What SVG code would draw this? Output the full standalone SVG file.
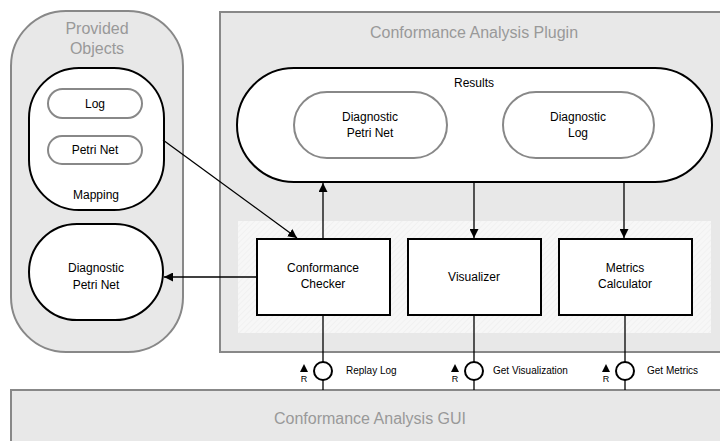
<svg xmlns="http://www.w3.org/2000/svg" width="720" height="441" viewBox="0 0 720 441">
<style>
.cont{fill:#e8e8e8;stroke:#888;stroke-width:2}
.title{font-family:"Liberation Sans",Arial,sans-serif;font-size:16px;fill:#999;text-anchor:middle}
.blk{fill:#fff;stroke:#000;stroke-width:2}
.gry{fill:#fff;stroke:#888;stroke-width:2}
.t{font-family:"Liberation Sans",Arial,sans-serif;font-size:12px;fill:#000;text-anchor:middle}
.s{font-family:"Liberation Sans",Arial,sans-serif;font-size:9px;fill:#000}
.lbl{font-family:"Liberation Sans",Arial,sans-serif;font-size:10px;fill:#000}
.ln{stroke:#000;stroke-width:1.3;fill:none}
.gl{stroke:#888;stroke-width:2}
</style>
<defs>
<marker id="ah" viewBox="0 0 10 10" refX="10" refY="5" markerWidth="9" markerHeight="9" markerUnits="userSpaceOnUse" orient="auto"><path d="M0,0L10,5L0,10z" fill="#000"/></marker>
<pattern id="hatch" width="4" height="4" patternUnits="userSpaceOnUse" patternTransform="rotate(45)"><rect width="4" height="4" fill="#f7f7f7"/><line x1="0" y1="0" x2="0" y2="4" stroke="#ececec" stroke-width="1"/></pattern>
</defs>
<rect width="720" height="441" fill="#fff"/>
<g id="gui">
<rect class="cont" x="11" y="390" width="720" height="60"/>
<text class="title" x="370" y="424">Conformance Analysis GUI</text>
</g>
<g id="provided">
<rect class="cont" x="11" y="11" width="172" height="341" rx="55" ry="55"/>
<text class="title" x="97" y="34">Provided</text>
<text class="title" x="97" y="54">Objects</text>
</g>
<g id="plugin">
<rect class="cont" x="220" y="12" width="520" height="340"/>
<text class="title" x="474" y="38">Conformance Analysis Plugin</text>
<rect x="238" y="221" width="473" height="112" fill="url(#hatch)"/>
</g>
<g id="band">
<line class="gl" x1="220" y1="352" x2="720" y2="352"/>
</g>
<g id="mapping">
<rect class="blk" x="29" y="68" width="135" height="142" rx="50" ry="50"/>
<text class="t" x="96" y="199">Mapping</text>
</g>
<g id="log">
<rect class="gry" x="48" y="89" width="94" height="29" rx="14.5"/>
<text class="t" x="95" y="108">Log</text>
</g>
<g id="petrinet">
<rect class="gry" x="48" y="136" width="94" height="28" rx="14"/>
<text class="t" x="95" y="154">Petri Net</text>
</g>
<g id="diagpn-left">
<rect class="blk" x="29" y="224" width="134" height="96" rx="48" ry="48"/>
<text class="t" x="96" y="272">Diagnostic</text>
<text class="t" x="96" y="289">Petri Net</text>
</g>
<g id="results">
<rect class="blk" x="237" y="68" width="475" height="114" rx="57" ry="57"/>
<text class="t" x="474" y="87">Results</text>
</g>
<g id="diagpn">
<rect class="gry" x="294" y="92" width="153" height="66" rx="33"/>
<text class="t" x="370" y="121">Diagnostic</text>
<text class="t" x="370" y="137">Petri Net</text>
</g>
<g id="diaglog">
<rect class="gry" x="503" y="92" width="151" height="66" rx="33"/>
<text class="t" x="578" y="121">Diagnostic</text>
<text class="t" x="578" y="137">Log</text>
</g>
<g id="connectors">
<line class="ln" x1="163" y1="140" x2="297" y2="238" marker-end="url(#ah)"/>
<line class="ln" x1="257" y1="277" x2="164" y2="277" marker-end="url(#ah)"/>
<line class="ln" x1="323" y1="239" x2="323" y2="183" marker-end="url(#ah)"/>
<line class="ln" x1="474" y1="182" x2="474" y2="238" marker-end="url(#ah)"/>
<line class="ln" x1="624" y1="182" x2="624" y2="238" marker-end="url(#ah)"/>
<line class="ln" x1="323" y1="315" x2="323" y2="390"/>
<line class="ln" x1="474" y1="315" x2="474" y2="390"/>
<line class="ln" x1="625" y1="315" x2="625" y2="390"/>
</g>
<g id="checker">
<rect class="blk" x="257" y="239" width="133" height="76"/>
<text class="t" x="323" y="272">Conformance</text>
<text class="t" x="323" y="288">Checker</text>
</g>
<g id="visualizer">
<rect class="blk" x="408" y="239" width="133" height="76"/>
<text class="t" x="474" y="281">Visualizer</text>
</g>
<g id="metrics">
<rect class="blk" x="559" y="239" width="133" height="76"/>
<text class="t" x="625" y="272">Metrics</text>
<text class="t" x="625" y="288">Calculator</text>
</g>
<g id="if-replay">
<circle cx="323" cy="371" r="9" fill="#fff" stroke="#000" stroke-width="2"/>
<path d="M300,372L304,364L308,372z" fill="#000"/>
<text class="s" x="304" y="382" text-anchor="middle">R</text>
<text class="lbl" x="346" y="374">Replay Log</text>
</g>
<g id="if-vis">
<circle cx="474" cy="371" r="9" fill="#fff" stroke="#000" stroke-width="2"/>
<path d="M451,372L455,364L459,372z" fill="#000"/>
<text class="s" x="455" y="382" text-anchor="middle">R</text>
<text class="lbl" x="493" y="374">Get Visualization</text>
</g>
<g id="if-metrics">
<circle cx="625" cy="371" r="9" fill="#fff" stroke="#000" stroke-width="2"/>
<path d="M602,372L606,364L610,372z" fill="#000"/>
<text class="s" x="606" y="382" text-anchor="middle">R</text>
<text class="lbl" x="647" y="374">Get Metrics</text>
</g>
</svg>
